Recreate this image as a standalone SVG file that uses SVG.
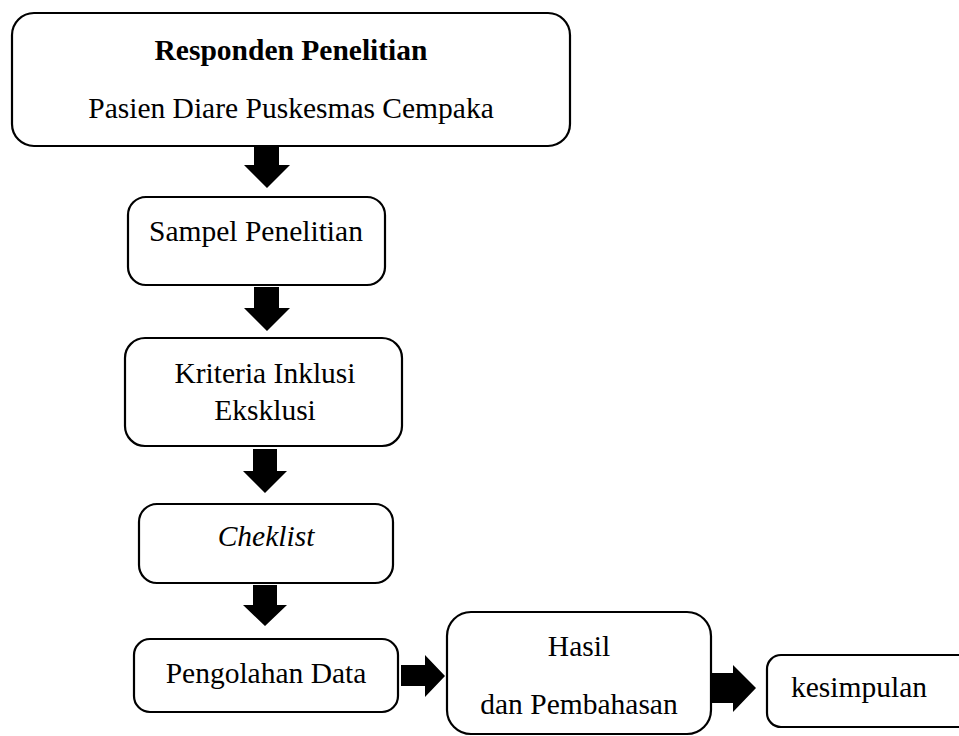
<svg xmlns="http://www.w3.org/2000/svg" width="959" height="736" viewBox="0 0 959 736">
<style>
.box{fill:#fff;stroke:#000;stroke-width:2.2}
.t{font-family:"Liberation Serif","Times New Roman",serif;font-size:29.5px;fill:#000;text-anchor:middle}
.b{font-weight:bold}
.i{font-style:italic}
.arr{fill:#000}
</style>
<rect width="959" height="736" fill="#fff"/>
<g id="n1">
<rect class="box" x="12" y="13" width="558" height="133" rx="22"/>
<text class="t b" x="291" y="60">Responden Penelitian</text>
<text class="t" x="291" y="118">Pasien Diare Puskesmas Cempaka</text>
</g>
<g id="n2">
<rect class="box" x="128" y="197" width="257" height="88" rx="18"/>
<text class="t" x="256" y="241">Sampel Penelitian</text>
</g>
<g id="n3">
<rect class="box" x="125" y="338" width="277" height="108" rx="20"/>
<text class="t" x="265" y="383">Kriteria Inklusi</text>
<text class="t" x="265" y="420">Eksklusi</text>
</g>
<g id="n4">
<rect class="box" x="139" y="504" width="254" height="79" rx="18"/>
<text class="t i" x="266" y="546">Cheklist</text>
</g>
<g id="n5">
<rect class="box" x="134" y="639" width="264" height="73" rx="16"/>
<text class="t" x="266" y="683">Pengolahan Data</text>
</g>
<g id="n6">
<rect class="box" x="447" y="612" width="264" height="122" rx="24"/>
<text class="t" x="579" y="656">Hasil</text>
<text class="t" x="579" y="714">dan Pembahasan</text>
</g>
<g id="n7">
<rect class="box" x="767" y="655" width="210" height="72" rx="14"/>
<text class="t" x="791" y="697" style="text-anchor:start">kesimpulan</text>
</g>
<g id="connectors">
<polygon class="arr" points="254,146 279,146 279,165 290,165 267,188 244,165 254,165"/>
<polygon class="arr" points="254,287 279,287 279,308 290,308 267,331 244,308 254,308"/>
<polygon class="arr" points="253,449 277,449 277,471 287,471 265,493 243,471 253,471"/>
<polygon class="arr" points="253,585 277,585 277,605 287,605 265,626 243,605 253,605"/>
<polygon class="arr" points="401,665 425,665 425,655 445,676 425,697 425,686 401,686"/>
<polygon class="arr" points="712,673 733,673 733,665 756,688 733,712 733,703 712,703"/>
</g>
</svg>
